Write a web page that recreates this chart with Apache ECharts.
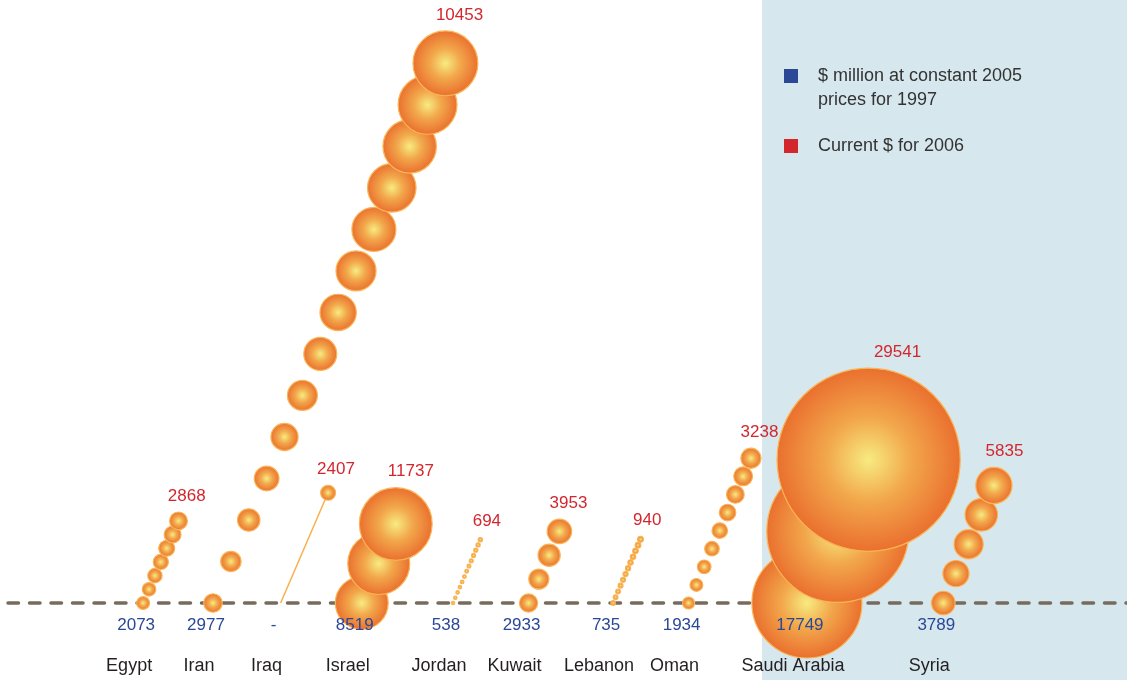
<!DOCTYPE html>
<html>
<head>
<meta charset="utf-8">
<script src="https://cdn.jsdelivr.net/npm/echarts@6/dist/echarts.min.js"></script>
<style>
html,body{margin:0;padding:0;background:#fff;}
#chart{width:1127px;height:680px;}
</style>
</head>
<body>
<div id="chart"></div>
<script>
// ---------------- DATA ----------------
const countries   = ['Egypt', 'Iran', 'Iraq', 'Israel', 'Jordan', 'Kuwait', 'Lebanon', 'Oman', 'Saudi Arabia', 'Syria'];
const spend1997   = [2073, 2977, null, 8519, 538, 2933, 735, 1934, 17749, 3789];   // $ million, constant 2005 prices
const spend2006   = [2868, 10453, 2407, 11737, 694, 3953, 940, 3238, 29541, 5835]; // current $
const bubbleCount = [7, 14, 1, 3, 13, 4, 12, 9, 3, 5];                              // bubbles in each chain

const LEG_1997 = '$ million at constant 2005\nprices for 1997';
const LEG_2006 = 'Current $ for 2006';

// ---------------- LAYOUT / STYLE ----------------
const slotX     = [12.7, 18.9, 24.9, 32.1, 40.2, 46.9, 54.4, 61.1, 71.6, 83.7]; // slot on hidden 0-100 axis
const chainStep = [14.9, 45.2, 120, 43, 5.75, 26, 6.3, 19.7, 78, 32];           // px between bubbles
const RADIUS_PER_MILLION = 0.0031;
const ANGLE = 66.7 * Math.PI / 180;
const RED = '#d3272e', BLUE = '#2b4897', INK = '#231f20';
const FONT = '"Liberation Sans", Arial, Helvetica, sans-serif';

const bubbleFill = new echarts.graphic.RadialGradient(0.5, 0.5, 0.5, [
  {offset: 0, color: '#f7eb80'},
  {offset: 0.45, color: '#f2a84c'},
  {offset: 1, color: '#ea6f2e'}
]);

function bubble(cx, cy, r) {
  return {
    type: 'circle',
    shape: {cx: cx, cy: cy, r: r},
    style: {fill: bubbleFill, stroke: '#f9b555', lineWidth: 1.2}
  };
}

function renderChain(params, api) {
  const i = params.dataIndex;
  const base = api.coord([api.value(0), api.value(1)]);
  const ux = Math.cos(ANGLE), uy = -Math.sin(ANGLE);
  const v0 = spend1997[i], v1 = spend2006[i];
  const n = bubbleCount[i], step = chainStep[i];
  const children = [];
  let top;
  if (v0 == null) {
    const ex = base[0] + ux * step, ey = base[1] + uy * step;
    children.push({type: 'line', shape: {x1: base[0], y1: base[1], x2: ex, y2: ey},
      style: {stroke: '#f8b04c', lineWidth: 1.5}});
    const r = v1 * RADIUS_PER_MILLION;
    children.push(bubble(ex, ey, r));
    top = [ex, ey, r];
  } else {
    const r0 = v0 * RADIUS_PER_MILLION, r1 = v1 * RADIUS_PER_MILLION;
    for (let j = 0; j < n; j++) {
      const t = n > 1 ? j / (n - 1) : 1;
      const r = r0 * Math.pow(r1 / r0, t);   // chain grows from the 1997 size to the 2006 size
      const cx = base[0] + ux * step * j, cy = base[1] + uy * step * j;
      children.push(bubble(cx, cy, r));
      top = [cx, cy, r];
    }
  }
  children.push({type: 'text', z2: 10, style: {
    text: String(v1), x: top[0] + 0.25 * top[2] + 6, y: top[1] - top[2] - 16,
    align: 'center', verticalAlign: 'middle', fill: RED, fontSize: 17, fontFamily: FONT}});
  children.push({type: 'text', z2: 10, style: {
    text: countries[i], x: base[0] - 14, y: base[1] + 63,
    align: 'center', verticalAlign: 'middle', fill: INK, fontSize: 18, fontFamily: FONT}});
  return {type: 'group', children: children};
}

const chart = echarts.init(document.getElementById('chart'), null, {renderer: 'canvas'});
chart.setOption({
  backgroundColor: '#ffffff',
  animation: false,
  graphic: [{
    type: 'rect', left: 762, top: 0, z: -10, silent: true,
    shape: {width: 365, height: 680},
    style: {fill: '#d6e7ee'}
  }],
  legend: {
    orient: 'vertical', left: 784, top: 40, padding: 0,
    itemWidth: 14, itemHeight: 14, itemGap: 22, icon: 'rect',
    selectedMode: false,
    data: [LEG_1997, LEG_2006],
    formatter: function (name) { return name === LEG_1997 ? '\n' + name : name; },
    textStyle: {fontSize: 18, lineHeight: 24, color: '#333333', fontFamily: FONT, padding: [0, 0, 0, 15]}
  },
  grid: {left: 0, right: 0, top: 0, bottom: 77},
  xAxis: {
    type: 'value', min: 0, max: 100, z: 0,
    axisLine: {show: true, lineStyle: {type: [10.5, 11], dashOffset: 13.5, width: 3.5, color: '#776b5d'}},
    axisTick: {show: false}, axisLabel: {show: false}, splitLine: {show: false}
  },
  yAxis: {type: 'value', min: 0, max: 1, show: false},
  series: [
    {
      type: 'custom', name: LEG_2006, z: 3,
      itemStyle: {color: RED},
      renderItem: renderChain,
      data: countries.map(function (c, i) { return [slotX[i], 0, spend1997[i], spend2006[i]]; })
    },
    {
      type: 'scatter', name: LEG_1997, z: 5,
      symbolSize: 0, itemStyle: {color: BLUE, opacity: 1},
      data: countries.map(function (c, i) { return [slotX[i], 0, spend1997[i]]; }),
      label: {
        show: true, position: 'inside', offset: [-7, 22],
        color: BLUE, fontSize: 17, fontFamily: FONT, opacity: 1,
        formatter: function (p) {
          const v = p.value[2];
          return (v == null || isNaN(v)) ? '-' : String(v);
        }
      }
    }
  ]
});
</script>
</body>
</html>
